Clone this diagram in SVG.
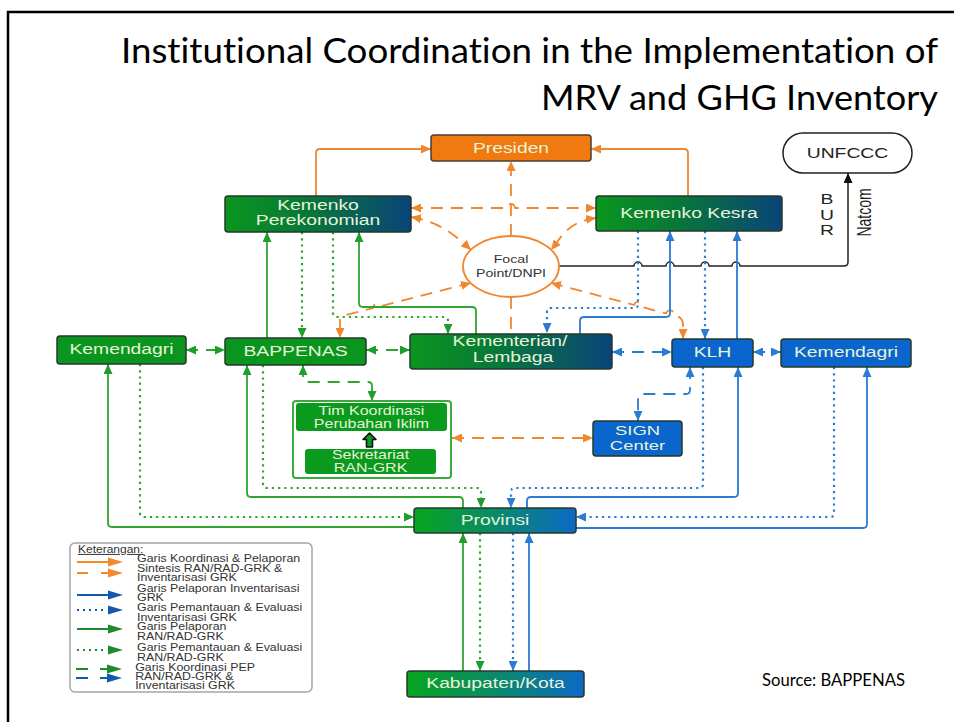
<svg xmlns="http://www.w3.org/2000/svg" width="954" height="722" viewBox="0 0 954 722">
<defs>
<style>
.frame{fill:none;stroke:#000;stroke-width:2.5}
.title{font-family:Lato,"Open Sans",sans-serif;font-size:35px;fill:#000;font-variant-ligatures:none}
.src{font-family:Lato,"Open Sans",sans-serif;font-size:17px;fill:#000}
.box{stroke:#26382a;stroke-width:1.5}
.g{fill:#0A961E}
.bl{fill:#0A66CC}
.lbl{font-family:"Liberation Sans",Arial,sans-serif;font-size:14px;fill:#E8F3D8;text-anchor:middle}
.dk{fill:#222}
.sm{font-size:12px}
.md{font-size:13px}
.fp{font-family:"Liberation Sans",Arial,sans-serif;font-size:10.5px;fill:#333;text-anchor:middle}
.ln{fill:none;stroke-width:1.8;stroke-linejoin:round}
.o{stroke:#F0862E}
.b{stroke:#2A7BD4}
.gr{stroke:#2FA52F}
.k{stroke:#222;stroke-width:1.5}
.dash{stroke-dasharray:12 8}
.dot{stroke-dasharray:2.2 4;stroke-width:2.2}
.leg{font-family:"Liberation Sans",Arial,sans-serif;font-size:10px;fill:#333}
.lg{fill:none;stroke-width:2}
</style>
<linearGradient id="gNavy" x1="0" x2="1" y1="0" y2="0">
<stop offset="0" stop-color="#0A961E"/><stop offset="0.45" stop-color="#08763A"/><stop offset="1" stop-color="#0A4479"/>
</linearGradient>
<linearGradient id="gBlue" x1="0" x2="1" y1="0" y2="0">
<stop offset="0" stop-color="#06A51E"/><stop offset="0.5" stop-color="#0A8A6A"/><stop offset="1" stop-color="#0D68C6"/>
</linearGradient>
<marker id="mO" viewBox="0 0 10 9" refX="10" refY="4.5" markerWidth="10" markerHeight="9" markerUnits="userSpaceOnUse" orient="auto-start-reverse"><path d="M0,0 L10,4.5 L0,9 z" fill="#F0862E"/></marker>
<marker id="mB" viewBox="0 0 10 9" refX="10" refY="4.5" markerWidth="10" markerHeight="9" markerUnits="userSpaceOnUse" orient="auto-start-reverse"><path d="M0,0 L10,4.5 L0,9 z" fill="#2A7BD4"/></marker>
<marker id="mG" viewBox="0 0 10 9" refX="10" refY="4.5" markerWidth="10" markerHeight="9" markerUnits="userSpaceOnUse" orient="auto-start-reverse"><path d="M0,0 L10,4.5 L0,9 z" fill="#1E9E2A"/></marker>
<marker id="mK" viewBox="0 0 10 9" refX="10" refY="4.5" markerWidth="10" markerHeight="9" markerUnits="userSpaceOnUse" orient="auto-start-reverse"><path d="M0,0 L10,4.5 L0,9 z" fill="#111"/></marker>
</defs>

<rect width="954" height="722" fill="#fff"/>
<path class="frame" d="M8,724 V12 H956"/>

<text class="title" x="121" y="63" textLength="817" lengthAdjust="spacingAndGlyphs">Institutional Coordination in the Implementation of</text>
<text class="title" x="541" y="110" textLength="397" lengthAdjust="spacingAndGlyphs">MRV and GHG Inventory</text>

<!-- connectors -->
<g id="connectors">
<!-- orange: coordination & reporting -->
<path class="ln o" d="M316,196 V153 Q316,149 320,149 H431" marker-end="url(#mO)"/>
<path class="ln o" d="M688,196 V153 Q688,149 684,149 H591" marker-end="url(#mO)"/>
<path class="ln o dash" d="M511,236 V161" marker-end="url(#mO)"/>
<path class="ln o dash" d="M411,208 H507 A4,4 0 0 1 515,208 H596" marker-start="url(#mO)" marker-end="url(#mO)"/>
<path class="ln o dash" d="M411,217 C440,222 455,235 471,250" marker-start="url(#mO)" marker-end="url(#mO)"/>
<path class="ln o dash" d="M596,218 C568,222 563,235 551,250" marker-start="url(#mO)" marker-end="url(#mO)"/>
<path class="ln o dash" d="M471,283 L381.1,306 A4,4 0 0 0 373.4,308 L344,315.5 Q340,316.5 340,321 V338" marker-start="url(#mO)" marker-end="url(#mO)"/>
<path class="ln o dash" d="M551,283 L634.1,305 A4,4 0 0 1 641.9,307 L666.1,313.4 A4,4 0 0 1 673.9,315.4 L677,316.2 Q683,318 683,325 V339" marker-start="url(#mO)" marker-end="url(#mO)"/>
<path class="ln o dash" d="M511,297 V334"/>
<path class="ln o dash" d="M452,438 H593" marker-start="url(#mO)" marker-end="url(#mO)"/>

<!-- black: BUR / Natcom to UNFCCC -->
<path class="ln k" d="M559,266 H634 A4,4 0 0 1 642,266 H666 A4,4 0 0 1 674,266 H701 A4,4 0 0 1 709,266 H732 A4,4 0 0 1 740,266 H844 Q848,266 848,262 V173" marker-end="url(#mK)"/>

<!-- blue: GRK inventory -->
<path class="ln b dot" d="M638,231 V304 Q638,308 634,308 H551 Q547,308 547,312 V333" marker-end="url(#mB)"/>
<path class="ln b" d="M580,334 V321 Q580,317 584,317 H666 Q670,317 670,313 V231" marker-end="url(#mB)"/>
<path class="ln b dot" d="M705,231 V339" marker-end="url(#mB)"/>
<path class="ln b" d="M737,339 V231" marker-end="url(#mB)"/>
<path class="ln b dash" d="M612,352 H672" marker-start="url(#mB)" marker-end="url(#mB)"/>
<path class="ln b dash" d="M753,352 H781" marker-start="url(#mB)" marker-end="url(#mB)"/>
<path class="ln b dash" d="M690,367 V390 Q690,394 686,394 H642 Q638,394 638,398 V421" marker-start="url(#mB)" marker-end="url(#mB)"/>
<path class="ln b dot" d="M703,367 V484 Q703,488 699,488 H515 Q511,488 511,492 V508" marker-end="url(#mB)"/>
<path class="ln b" d="M527,508 V501 Q527,497 531,497 H734 Q738,497 738,493 V367" marker-end="url(#mB)"/>
<path class="ln b dot" d="M834,367 V513 Q834,517 830,517 H576" marker-end="url(#mB)"/>
<path class="ln b" d="M576,528 H863 Q867,528 867,524 V367" marker-end="url(#mB)"/>
<path class="ln b dot" d="M513,533 V671" marker-end="url(#mB)"/>
<path class="ln b" d="M529,671 V533" marker-end="url(#mB)"/>

<!-- green: RAN/RAD-GRK -->
<path class="ln gr" d="M267,338 V232" marker-end="url(#mG)"/>
<path class="ln gr dot" d="M302,232 V338" marker-end="url(#mG)"/>
<path class="ln gr dot" d="M333,232 V313 Q333,317 337,317 H444 Q448,317 448,321 V334" marker-end="url(#mG)"/>
<path class="ln gr" d="M476,334 V311 Q476,307 472,307 H363 Q359,307 359,303 V232" marker-end="url(#mG)"/>
<path class="ln gr dash" d="M366,350 H410" marker-start="url(#mG)" marker-end="url(#mG)"/>
<path class="ln gr dash" d="M186,350 H225" marker-start="url(#mG)" marker-end="url(#mG)"/>
<path class="ln gr dash" d="M303,365 V378 Q303,382 307,382 H368 Q372,382 372,386 V401" marker-start="url(#mG)" marker-end="url(#mG)"/>
<path class="ln gr" d="M463,508 V501 Q463,497 459,497 H251 Q247,497 247,493 V365" marker-end="url(#mG)"/>
<path class="ln gr dot" d="M263,365 V484 Q263,488 267,488 H477 Q481,488 481,492 V508" marker-end="url(#mG)"/>
<path class="ln gr" d="M414,527 H112 Q108,527 108,523 V364" marker-end="url(#mG)"/>
<path class="ln gr dot" d="M140,364 V513 Q140,517 144,517 H414" marker-end="url(#mG)"/>
<path class="ln gr" d="M463,671 V533" marker-end="url(#mG)"/>
<path class="ln gr dot" d="M480,533 V671" marker-end="url(#mG)"/>
</g>

<!-- nodes -->
<g id="n-presiden">
<rect x="431" y="135" width="160" height="26" rx="3" fill="#F07A10" stroke="#4a3f33" stroke-width="1.5"/>
<text class="lbl" fill="#F8EDD8" transform="translate(511 153) scale(1.38 1)">Presiden</text>
</g>
<g id="n-unfccc">
<rect x="783" y="133" width="129" height="40" rx="20" fill="#fff" stroke="#222" stroke-width="1.5"/>
<text class="lbl dk" transform="translate(847.5 157.5) scale(1.38 1)">UNFCCC</text>
</g>
<g id="n-kemenko-perek">
<rect class="box" x="225" y="196" width="186" height="36" rx="3" fill="url(#gNavy)"/>
<text class="lbl" transform="translate(318 210) scale(1.38 1)">Kemenko</text>
<text class="lbl" transform="translate(318 224.5) scale(1.38 1)">Perekonomian</text>
</g>
<g id="n-kemenko-kesra">
<rect class="box" x="596" y="196" width="186" height="35" rx="3" fill="url(#gNavy)"/>
<text class="lbl" transform="translate(689 218) scale(1.38 1)">Kemenko Kesra</text>
</g>
<g id="n-focal">
<ellipse cx="511" cy="266.5" rx="48" ry="30.5" fill="#fff" stroke="#F0862E" stroke-width="1.8"/>
<text class="fp" transform="translate(511 263) scale(1.35 1)">Focal</text>
<text class="fp" transform="translate(511 277) scale(1.35 1)">Point/DNPI</text>
</g>
<g id="n-kemendagri-l">
<rect class="box g" x="57" y="336" width="129" height="28" rx="3"/>
<text class="lbl" transform="translate(121.5 353.5) scale(1.38 1)">Kemendagri</text>
</g>
<g id="n-bappenas">
<rect class="box g" x="225" y="338" width="141" height="27" rx="3"/>
<text class="lbl" transform="translate(295.5 356) scale(1.38 1)">BAPPENAS</text>
</g>
<g id="n-kementerian">
<rect class="box" x="410" y="334" width="202" height="35" rx="3" fill="url(#gNavy)"/>
<text class="lbl" transform="translate(510 346) scale(1.38 1)">Kementerian/</text>
<text class="lbl" transform="translate(513 362) scale(1.38 1)">Lembaga</text>
</g>
<g id="n-klh">
<rect class="box bl" x="672" y="339" width="81" height="28" rx="3"/>
<text class="lbl" transform="translate(712.5 356.5) scale(1.38 1)">KLH</text>
</g>
<g id="n-kemendagri-r">
<rect class="box bl" x="781" y="339" width="130" height="28" rx="3"/>
<text class="lbl" transform="translate(846 356.5) scale(1.38 1)">Kemendagri</text>
</g>
<g id="n-tim">
<rect x="293" y="401" width="158" height="77" rx="3" fill="#fff" stroke="#3AAA3A" stroke-width="2"/>
<rect x="296" y="403" width="151" height="28" rx="3" fill="#0A9A1E"/>
<text class="lbl sm" transform="translate(371.5 415) scale(1.33 1)">Tim Koordinasi</text>
<text class="lbl sm" transform="translate(371.5 428) scale(1.33 1)">Perubahan Iklim</text>
<rect x="305" y="449" width="131" height="25" rx="3" fill="#0A9A1E"/>
<text class="lbl sm" transform="translate(370.5 459) scale(1.33 1)">Sekretariat</text>
<text class="lbl sm" transform="translate(370.5 472) scale(1.33 1)">RAN-GRK</text>
<path d="M369.5,433 L376,439.5 L372.5,439.5 L372.5,447 L366.5,447 L366.5,439.5 L363,439.5 Z" fill="#0A9A1E" stroke="#111" stroke-width="1.6" stroke-linejoin="round"/>
</g>
<g id="n-sign">
<rect class="box bl" x="593" y="421" width="89" height="35" rx="3"/>
<text class="lbl md" transform="translate(637.5 435) scale(1.42 1)">SIGN</text>
<text class="lbl md" transform="translate(637.5 449.5) scale(1.42 1)">Center</text>
</g>
<g id="n-provinsi">
<rect class="box" x="414" y="508" width="162" height="25" rx="3" fill="url(#gBlue)"/>
<text class="lbl" transform="translate(495 525) scale(1.38 1)">Provinsi</text>
</g>
<g id="n-kabupaten">
<rect class="box" x="407" y="671" width="177" height="26" rx="3" fill="url(#gBlue)"/>
<text class="lbl" transform="translate(495.5 688) scale(1.38 1)">Kabupaten/Kota</text>
</g>

<!-- report labels on the UNFCCC link -->
<g id="bur-natcom" class="lbl dk">
<text transform="translate(827 204) scale(1.38 1)">B</text>
<text transform="translate(827 219.5) scale(1.38 1)">U</text>
<text transform="translate(827 235) scale(1.38 1)">R</text>
<text transform="translate(864 212.5) scale(1.38 1) rotate(-90)" y="5">Natcom</text>
</g>

<!-- legend -->
<g id="legend">
<rect x="70" y="543" width="242" height="149" rx="5" fill="#fff" stroke="#A5A5A5" stroke-width="1.5"/>
<text class="leg" transform="translate(78 553) scale(1.2 1)" text-decoration="underline">Keterangan:</text>
<path class="lg" stroke="#F08A2A" d="M77,562 H110"/>
<path fill="#F08A2A" d="M108,557.5 L123,562 L108,566.5 z"/>
<path class="lg" stroke="#F08A2A" d="M77,573 H88 M101,573 H110"/>
<path fill="#F08A2A" d="M108,568.5 L123,573 L108,577.5 z"/>
<path class="lg" stroke="#1559AC" d="M77,595 H110"/>
<path fill="#1559AC" d="M108,590.5 L123,595 L108,599.5 z"/>
<path class="lg" stroke="#1559AC" stroke-dasharray="2 4" d="M77,610 H107"/>
<path fill="#1559AC" d="M108,605.5 L123,610 L108,614.5 z"/>
<path class="lg" stroke="#1E8A2A" d="M77,629 H110"/>
<path fill="#1E8A2A" d="M108,624.5 L123,629 L108,633.5 z"/>
<path class="lg" stroke="#1E8A2A" stroke-dasharray="2 4" d="M77,650 H107"/>
<path fill="#1E8A2A" d="M108,645.5 L123,650 L108,654.5 z"/>
<path class="lg" stroke="#1E8A2A" d="M76,669 H88 M100,669 H110"/>
<path fill="#1E8A2A" d="M107,664.5 L122,669 L107,673.5 z"/>
<path class="lg" stroke="#1559AC" d="M76,678 H88 M100,678 H110"/>
<path fill="#1559AC" d="M107,673.5 L122,678 L107,682.5 z"/>
<g transform="translate(137 0) scale(1.24 1)" class="leg">
<text x="0" y="562">Garis Koordinasi &amp; Pelaporan</text>
<text x="0" y="572">Sintesis RAN/RAD-GRK &amp;</text>
<text x="0" y="581.5">Inventarisasi GRK</text>
<text x="0" y="592">Garis Pelaporan Inventarisasi</text>
<text x="0" y="601.5">GRK</text>
<text x="0" y="611">Garis Pemantauan &amp; Evaluasi</text>
<text x="0" y="621">Inventarisasi GRK</text>
<text x="0" y="630.5">Garis Pelaporan</text>
<text x="0" y="640">RAN/RAD-GRK</text>
<text x="0" y="651">Garis Pemantauan &amp; Evaluasi</text>
<text x="0" y="661">RAN/RAD-GRK</text>
<text x="-1.5" y="671">Garis Koordinasi PEP</text>
<text x="-1.5" y="680.5">RAN/RAD-GRK &amp;</text>
<text x="-1.5" y="689.5">Inventarisasi GRK</text>
</g>
</g>

<text class="src" x="762" y="686" textLength="143" lengthAdjust="spacingAndGlyphs">Source: BAPPENAS</text>
</svg>
